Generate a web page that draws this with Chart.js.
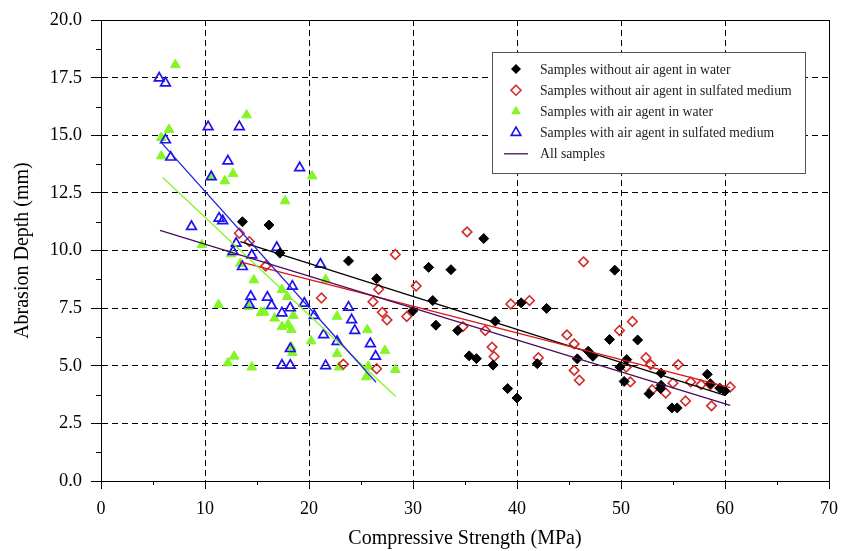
<!DOCTYPE html>
<html>
<head>
<meta charset="utf-8">
<script src="https://cdn.jsdelivr.net/npm/chart.js@4.4.0/dist/chart.umd.min.js"></script>
<style>
  body { margin: 0; background: #fff; }
</style>
</head>
<body>
<canvas id="chart" width="843" height="551"></canvas>
<script>
// series labels as shown in the legend
const seriesNames = [
  "Samples without air agent in water",
  "Samples without air agent in sulfated medium",
  "Samples with air agent in water",
  "Samples with air agent in sulfated medium",
  "All samples"
];

// [compressive strength, abrasion depth]
const noAirWater = [
  [13.6, 11.25], [16.15, 11.11], [17.2, 9.89], [23.8, 9.55], [26.5, 8.78], [31.5, 9.27],
  [33.65, 9.17], [36.8, 10.52], [31.9, 7.83], [29.97, 7.38], [32.2, 6.76], [34.3, 6.53],
  [37.9, 6.93], [35.4, 5.43], [36.1, 5.31], [37.7, 5.03], [40.4, 7.73], [42.85, 7.49],
  [49.4, 9.15], [48.9, 6.14], [51.6, 6.12], [41.95, 5.09], [45.8, 5.3], [46.85, 5.63],
  [47.3, 5.41], [49.9, 4.94], [50.55, 5.27], [50.3, 4.32], [39.1, 4.01], [40.0, 3.6],
  [52.7, 3.79], [53.85, 4.68], [53.85, 4.15], [53.8, 4.01], [54.9, 3.17], [55.4, 3.17],
  [58.3, 4.63], [58.6, 4.22], [59.5, 4.03], [60.0, 3.91]
];
const noAirSulfate = [
  [13.3, 10.75], [14.26, 10.39], [15.84, 9.33], [21.2, 7.94], [28.3, 9.83], [35.2, 10.81],
  [30.3, 8.46], [26.7, 8.32], [26.15, 7.78], [27.05, 7.32], [27.5, 6.99], [29.4, 7.14],
  [34.8, 6.7], [36.95, 6.53], [37.6, 5.81], [37.8, 5.4], [23.3, 5.07], [26.5, 4.87],
  [46.4, 9.51], [39.4, 7.68], [41.2, 7.83], [42.05, 5.35], [44.8, 6.34], [45.5, 5.95],
  [45.5, 4.8], [46.0, 4.37], [49.85, 6.53], [51.1, 6.92], [50.5, 4.94], [50.9, 4.3],
  [52.4, 5.35], [52.85, 5.05], [55.5, 5.05], [53.0, 3.96], [54.3, 3.82], [55.0, 4.25],
  [56.7, 4.3], [57.7, 4.18], [58.6, 4.18], [56.2, 3.47], [58.7, 3.26], [60.5, 4.08]
];
const airWater = [
  [7.15, 18.06], [6.54, 15.25], [5.8, 14.9], [5.8, 14.1], [14.0, 15.88], [12.7, 13.33],
  [11.9, 13.02], [10.6, 13.19], [20.3, 13.23], [17.7, 12.15], [9.7, 10.25], [12.5, 9.85],
  [13.4, 9.44], [14.7, 8.72], [17.4, 8.3], [17.9, 8.0], [18.5, 7.18], [11.3, 7.65],
  [14.2, 7.57], [15.4, 7.31], [15.7, 7.32], [16.7, 7.06], [17.4, 6.7], [18.0, 6.79],
  [18.3, 6.57], [18.3, 5.81], [18.4, 5.57], [12.8, 5.41], [12.2, 5.12], [14.5, 4.94],
  [21.6, 8.74], [22.7, 7.14], [25.6, 6.56], [20.2, 6.07], [27.3, 5.66], [22.7, 5.52],
  [22.9, 4.94], [25.7, 4.97], [25.5, 4.51], [28.3, 4.83]
];
const airSulfate = [
  [5.6, 17.48], [6.2, 17.27], [6.2, 14.8], [6.7, 14.05], [10.3, 15.37], [13.3, 15.37],
  [12.2, 13.88], [19.1, 13.59], [10.6, 13.2], [11.35, 11.4], [11.7, 11.29], [8.7, 11.04],
  [13.0, 10.31], [12.7, 9.95], [16.9, 10.13], [14.5, 9.8], [13.6, 9.3], [18.4, 8.45],
  [14.4, 8.0], [14.26, 7.65], [16.0, 7.97], [16.4, 7.61], [17.4, 7.29], [18.2, 7.51],
  [18.2, 5.74], [17.4, 5.02], [18.2, 5.02], [19.55, 7.71], [21.1, 9.4], [20.5, 7.18],
  [23.8, 7.54], [24.1, 6.99], [24.4, 6.53], [21.4, 6.34], [22.7, 6.05], [25.9, 5.95],
  [26.4, 5.41], [21.6, 5.0]
];

// linear fits: depth = intercept + slope * strength, drawn from fitFrom to fitTo
const fitIntercept = [12.3, 11.06, 15.68, 17.61, 11.66];
const fitSlope = [-0.143, -0.1159, -0.424, -0.504, -0.1384];
const fitFrom = [13.4, 13.4, 5.93, 5.74, 5.67];
const fitTo = [60.0, 60.5, 28.34, 26.44, 60.5];

const xTicks = [0, 10, 20, 30, 40, 50, 60, 70];
const yTicks = [0, 2.5, 5, 7.5, 10, 12.5, 15, 17.5, 20];

const colors = ['#000000', '#d42a2a', '#84f526', '#1e12ee', '#4b0a5c'];
const lineColors = ['#000000', '#dd1515', '#84f526', '#2222dd', '#4b0a5c'];

const toPts = arr => arr.map(p => ({x: p[0], y: p[1]}));
const fitLine = i => [
  {x: fitFrom[i], y: fitIntercept[i] + fitSlope[i] * fitFrom[i]},
  {x: fitTo[i], y: fitIntercept[i] + fitSlope[i] * fitTo[i]}
];

const serif = "'Liberation Serif', 'Times New Roman', serif";

const datasets = [
  {label: seriesNames[0], data: toPts(noAirWater), pointStyle: 'rectRot', pointRadius: 5,
   backgroundColor: colors[0], borderColor: colors[0], borderWidth: 1},
  {label: seriesNames[1], data: toPts(noAirSulfate), pointStyle: 'rectRot', pointRadius: 4.8,
   backgroundColor: 'rgba(0,0,0,0)', borderColor: colors[1], borderWidth: 1.6},
  {label: seriesNames[3], data: toPts(airSulfate), pointStyle: 'triangle', pointRadius: 5.6,
   backgroundColor: 'rgba(0,0,0,0)', borderColor: colors[3], borderWidth: 1.7},
  {label: seriesNames[2], data: toPts(airWater), pointStyle: 'triangle', pointRadius: 5.6,
   backgroundColor: colors[2], borderColor: colors[2], borderWidth: 1}
];
for (let i = 0; i < 5; i++) {
  datasets.unshift({
    type: 'line', label: 'fit' + i, data: fitLine(i), showLine: true, pointRadius: 0,
    borderColor: lineColors[i], borderWidth: 1.3, fill: false
  });
}

const frame = {
  id: 'frame',
  afterDraw(chart) {
    const {ctx, chartArea: a, scales: {x, y}} = chart;
    ctx.save();
    ctx.strokeStyle = '#000';
    ctx.lineWidth = 1;
    ctx.beginPath();
    for (let i = 0; i < xTicks.length - 1; i++) {
      const px = Math.round(x.getPixelForValue((xTicks[i] + xTicks[i + 1]) / 2)) + 0.5;
      ctx.moveTo(px, a.bottom);
      ctx.lineTo(px, a.bottom + 4);
    }
    for (let i = 0; i < yTicks.length - 1; i++) {
      const py = Math.round(y.getPixelForValue((yTicks[i] + yTicks[i + 1]) / 2)) + 0.5;
      ctx.moveTo(a.left - 5, py);
      ctx.lineTo(a.left, py);
    }
    ctx.stroke();
    ctx.strokeRect(Math.round(a.left) + 0.5, Math.round(a.top) + 0.5,
      Math.round(a.right - a.left), Math.round(a.bottom - a.top));

    // legend
    const lx = 492, ly = 52, lw = 313, lh = 121;
    ctx.fillStyle = '#fff';
    ctx.fillRect(lx, ly, lw, lh);
    ctx.strokeStyle = '#555';
    ctx.strokeRect(lx + 0.5, ly + 0.5, lw, lh);
    ctx.font = '13.7px ' + serif;
    ctx.textBaseline = 'middle';
    ctx.textAlign = 'left';
    for (let i = 0; i < 5; i++) {
      const cy = ly + 17 + i * 21.2, cx = lx + 24;
      ctx.beginPath();
      if (i < 2) {
        const r = 5;
        ctx.moveTo(cx, cy - r); ctx.lineTo(cx + r, cy); ctx.lineTo(cx, cy + r); ctx.lineTo(cx - r, cy); ctx.closePath();
      } else if (i < 4) {
        const r = 5.6;
        ctx.moveTo(cx, cy - r); ctx.lineTo(cx + r * 0.866, cy + r / 2); ctx.lineTo(cx - r * 0.866, cy + r / 2); ctx.closePath();
      } else {
        ctx.moveTo(cx - 12, cy); ctx.lineTo(cx + 12, cy);
      }
      if (i === 0 || i === 2) {
        ctx.fillStyle = colors[i]; ctx.fill();
      } else {
        ctx.strokeStyle = colors[i]; ctx.lineWidth = i === 4 ? 1.3 : 1.6; ctx.stroke();
      }
      ctx.fillStyle = '#222';
      ctx.fillText(seriesNames[i], lx + 48, cy + 1);
    }
    ctx.restore();
  }
};

const ctx = document.getElementById('chart').getContext('2d');
const chart = new Chart(ctx, {
  type: 'scatter',
  data: {datasets: datasets},
  options: {
    responsive: false,
    animation: false,
    devicePixelRatio: 1,
    layout: {padding: {top: 18, right: 14, left: 0, bottom: 0}},
    plugins: {legend: {display: false}, tooltip: {enabled: false}},
    scales: {
      x: {
        type: 'linear', min: 0, max: 70,
        afterFit: s => { s.height = 70; s.paddingRight = 0; },
        afterBuildTicks: s => { s.ticks = xTicks.map(v => ({value: v})); },
        ticks: {color: '#000', font: {family: serif, size: 18}, padding: 9,
                callback: v => String(v)},
        grid: {color: '#000', lineWidth: 1, tickLength: 8, tickColor: '#000'},
        border: {display: true, color: '#000', width: 1, dash: [6, 4]},
        title: {display: true, text: 'Compressive Strength (MPa)', color: '#000',
                font: {family: serif, size: 20}, padding: {top: 0, bottom: 0}}
      },
      y: {
        type: 'linear', min: 0, max: 20,
        afterFit: s => { s.width = 101; },
        afterBuildTicks: s => { s.ticks = yTicks.map(v => ({value: v})); },
        ticks: {color: '#000', font: {family: serif, size: 18.5}, padding: 9,
                callback: v => v.toFixed(1)},
        grid: {color: '#000', lineWidth: 1, tickLength: 10, tickColor: '#000'},
        border: {display: true, color: '#000', width: 1, dash: [6, 4]},
        title: {display: true, text: 'Abrasion Depth (mm)', color: '#000',
                font: {family: serif, size: 20}, padding: {top: 11, bottom: 0}}
      }
    }
  },
  plugins: [frame]
});
</script>
</body>
</html>
